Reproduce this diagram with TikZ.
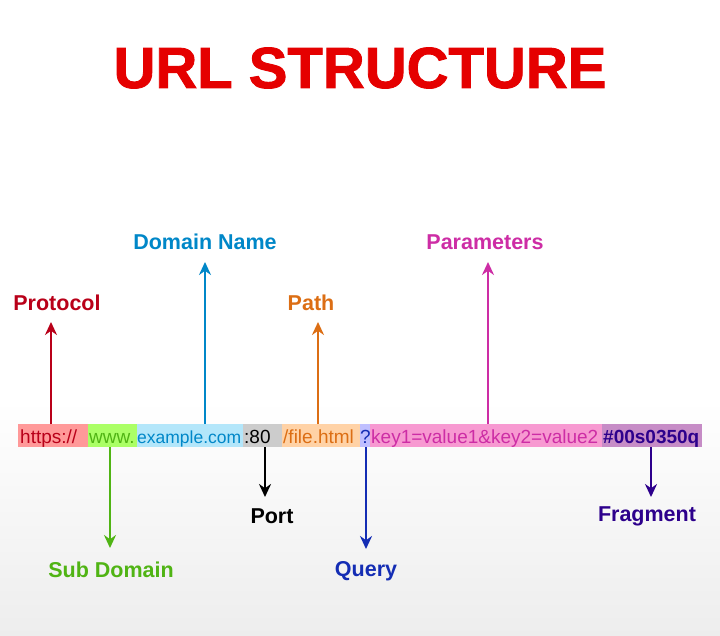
\documentclass[tikz,border=0pt]{standalone}
\usepackage{fontspec}
\setmainfont{Liberation Sans}
\usetikzlibrary{arrows.meta}
\begin{document}
\begin{tikzpicture}[x=1pt,y=-1pt,
  lab/.style={font=\fontsize{21.5}{22}\selectfont\bfseries},
  seg/.style={inner sep=0pt,anchor=base west,font=\fontsize{19}{20}\selectfont},
  ar/.style={line width=2.2pt,-{Stealth[length=13pt,width=12pt]}}]
\definecolor{cProt}{RGB}{185,0,25}\definecolor{cDom}{RGB}{0,135,200}
\definecolor{cPath}{RGB}{220,110,20}\definecolor{cPar}{RGB}{205,45,165}
\definecolor{cSub}{RGB}{80,180,20}\definecolor{cQ}{RGB}{20,45,180}
\definecolor{cFr}{RGB}{45,0,140}
\useasboundingbox (0,0) rectangle (720,635);
\fill[white] (0,0) rectangle (720,635);
\shade[top color=white,bottom color=black!7] (0,400) rectangle (720,635);
\node[font=\fontsize{58}{60}\selectfont\bfseries,text=red!90!black] (title) at (360,68) {\addfontfeatures{FakeBold=1.5}URL STRUCTURE};
\foreach \a/\b/\c in {18/88/red!40,88/137/green!55!yellow!60,137/243/cyan!30,243/282/black!20,282/360/orange!35,360/370/blue!25,370/602/magenta!40,602/702/violet!45}{
  \fill[\c] (\a,424) rectangle (\b,447);
}
\node[seg,text=cProt] (s1) at (20,443) {https://};
\node[seg,text=cSub] (s2) at (89,443) {www.};
\node[seg,text=cDom,font=\fontsize{17.5}{20}\selectfont] (s3) at (137,443) {example.com};
\node[seg,text=black] (s4) at (244,443) {:80};
\node[seg,text=cPath] (s5) at (283,443) {/file.html};
\node[seg,text=cQ] (s6) at (360,443) {?};
\node[seg,text=cPar] (s7) at (371,443) {key1=value1\&key2=value2};
\node[seg,text=cFr,font=\fontsize{19}{20}\selectfont\bfseries] (s8) at (603,443) {\#00s0350q};
\node[lab,text=cProt] (l1) at (57,303) {Protocol};
\node[lab,text=cDom] (l2) at (205,242) {Domain Name};
\node[lab,text=cPath] (l3) at (311,303) {Path};
\node[lab,text=cPar] (l4) at (485,242) {Parameters};
\node[lab,text=cSub] (l5) at (111,570) {Sub Domain};
\node[lab,text=black] (l6) at (272,516) {Port};
\node[lab,text=cQ] (l7) at (366,571) {Query};
\node[lab,text=cFr] (l8) at (647,516) {Fragment};
\coordinate (a1) at (51,424);\coordinate (b1) at (51,322);
\coordinate (a2) at (205,424);\coordinate (b2) at (205,262);
\coordinate (a3) at (318,424);\coordinate (b3) at (318,322);
\coordinate (a4) at (488,424);\coordinate (b4) at (488,262);
\coordinate (a5) at (110,447);\coordinate (b5) at (110,548);
\coordinate (a6) at (265,447);\coordinate (b6) at (265,497);
\coordinate (a7) at (366,447);\coordinate (b7) at (366,549);
\coordinate (a8) at (651,447);\coordinate (b8) at (651,497);
\draw[ar,cProt] (a1)--(b1);\draw[ar,cDom] (a2)--(b2);
\draw[ar,cPath] (a3)--(b3);\draw[ar,cPar] (a4)--(b4);
\draw[ar,cSub] (a5)--(b5);\draw[ar,black] (a6)--(b6);
\draw[ar,cQ] (a7)--(b7);\draw[ar,cFr] (a8)--(b8);
\end{tikzpicture}
\end{document}
